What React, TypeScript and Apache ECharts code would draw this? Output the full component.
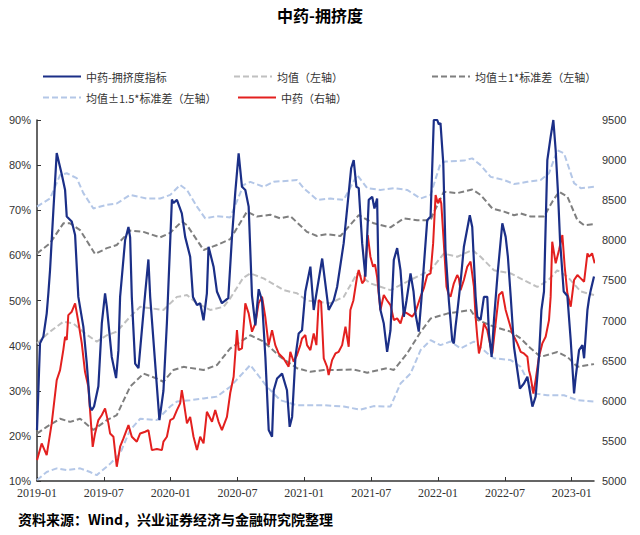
import React, { useEffect, useRef } from "react";
import * as echarts from "echarts";

// x = months since 2019-01
const tickMonths = [0, 6, 12, 18, 24, 30, 36, 42, 48];
const leftTicks = [10, 20, 30, 40, 50, 60, 70, 80, 90];
const rightTicks = [5000, 5500, 6000, 6500, 7000, 7500, 8000, 8500, 9000, 9500];

const crowding: [number, number][] = [
  [0, 21.3], [0.27, 40.5], [0.57, 42], [0.87, 47.1], [1.02, 51.6], [1.17, 56.7], [1.47, 70], [1.77, 82.7],
  [2.22, 78], [2.52, 74.5], [2.67, 68.6], [3.12, 67.5], [3.42, 64.5], [3.71, 50.8], [4.16, 44.2], [4.47, 36],
  [4.76, 26.5], [4.92, 25.7], [5.12, 26.5], [5.51, 31], [5.82, 45], [6.11, 51.6], [6.27, 48.6], [6.71, 37.5],
  [7.1, 32.8], [7.31, 39], [7.46, 50.8], [7.91, 63.4], [8.21, 66.3], [8.36, 64], [8.51, 50.8], [8.81, 36],
  [9.11, 35], [9.71, 51.6], [10.0, 59.1], [10.16, 50.8], [10.99, 23.5], [11.35, 30], [11.66, 45], [12.11, 72.4],
  [12.25, 71.6], [12.56, 72.3], [13.0, 69.3], [13.3, 64.1], [13.75, 59.7], [14.0, 50.8], [14.36, 49], [14.65, 49.4],
  [14.95, 45.6], [15.25, 51.6], [15.4, 61.9], [15.85, 57.5], [16.15, 52], [16.6, 49.4], [16.9, 50], [17.17, 50.5],
  [17.5, 64], [17.8, 74], [18.1, 82.6], [18.4, 75.2], [18.7, 74.5], [19.0, 70.8], [19.3, 51], [19.6, 44.5],
  [19.9, 52.5], [20.2, 50], [20.5, 37.5], [20.8, 21.3], [21.1, 19.8], [21.25, 30.1], [21.55, 32.7], [22.0, 33.8],
  [22.44, 30.1], [22.68, 22], [22.9, 24.2], [23.2, 37.5], [23.49, 42.7], [23.79, 43.4], [24.09, 52], [24.54, 57.5],
  [24.84, 47.9], [25.6, 59.3], [26.18, 47.9], [26.63, 50], [26.94, 53], [27.53, 62.7], [27.98, 73.8], [28.2, 79.3],
  [28.43, 81.1], [28.67, 75.2], [28.88, 74.9], [29.19, 62.7], [29.48, 55.3], [29.78, 72.3], [30.09, 73], [30.29, 70.4],
  [30.53, 72.6], [30.68, 52], [30.83, 47.9], [31.13, 44.9], [31.43, 38.6], [31.73, 43.4], [32.03, 59], [32.33, 61.6],
  [32.63, 56.7], [32.93, 46.4], [33.17, 50], [33.53, 56], [33.8, 52], [33.98, 47], [34.27, 43.1], [34.5, 50],
  [34.72, 57.5], [35.03, 67.8], [35.33, 68.6], [35.62, 90], [35.93, 90], [36.07, 89], [36.22, 89.3], [36.47, 80.4],
  [36.67, 61.2], [36.97, 50], [37.27, 41.2], [37.42, 40.5], [37.57, 44.2], [37.78, 48.6], [38.02, 54], [38.32, 61.9],
  [38.85, 68.9], [39.07, 66.3], [39.37, 51], [39.52, 46.4], [39.82, 45.7], [40.12, 50.8], [40.42, 50.8], [40.57, 42.7],
  [40.81, 37.5], [41.02, 45.7], [41.35, 56], [41.77, 67.1], [42.07, 64.1], [42.27, 59.7], [42.52, 51], [42.82, 39.7],
  [43.35, 30.5], [43.71, 31.6], [44.02, 33.1], [44.47, 26.5], [44.76, 28.7], [45.06, 37.5], [45.28, 47.9], [45.51, 52],
  [45.81, 81.1], [46.11, 86.3], [46.35, 90], [46.56, 83.3], [46.77, 73.8], [46.95, 63.4], [47.28, 52], [47.61, 51],
  [47.91, 41.2], [48.21, 29.4], [48.36, 33.1], [48.66, 39], [48.96, 40.1], [49.11, 37.2], [49.41, 47.9], [49.56, 50.5],
  [49.71, 52.3], [50.0, 55.3],
];

const meanLine: [number, number][] = [
  [0, 40.5], [1.17, 43.1], [2.37, 45.3], [3.27, 44.9], [4.31, 42.7], [5.36, 40.9], [6.27, 42.3], [7.16, 43.1],
  [8.36, 46.4], [9.26, 48.6], [10.46, 48.2], [11.35, 47.9], [12.56, 50.8], [13.46, 51.2], [14.36, 49.4], [15.55, 47.9],
  [16.75, 48.6], [17.35, 50.5], [18.5, 55], [19.15, 56], [20.34, 54.9], [22.14, 52.3], [23.34, 51.6], [24.24, 50],
  [26.34, 49.4], [27.53, 50.8], [28.74, 56], [29.93, 53.8], [31.73, 52.3], [32.93, 53.8], [34.13, 55.3], [35.33, 56.7],
  [36.52, 60.4], [37.73, 59.7], [39.07, 61.2], [39.82, 59.7], [41.02, 56.7], [42.52, 56], [43.71, 54.5], [44.91, 53],
  [45.9, 54.5], [46.71, 56.7], [47.61, 55.3], [48.81, 52], [50.0, 51.2],
];

const upper1: [number, number][] = [
  [0, 60.4], [1.17, 62.7], [2.37, 67.1], [2.97, 67.1], [3.87, 65.6], [5.21, 60.3], [6.27, 61.6], [7.16, 62.3],
  [8.36, 65.5], [9.56, 65.2], [11.06, 64], [11.96, 65], [13.0, 67.5], [13.46, 66.7], [14.95, 61.2], [16.15, 62.3],
  [17.35, 63.6], [18.85, 69.7], [19.75, 68.6], [20.94, 69], [21.84, 68.2], [22.74, 68.7], [24.24, 65.2], [25.14, 64.3],
  [26.04, 64.7], [27.24, 64.3], [28.88, 68.9], [30.23, 67.1], [31.73, 66.2], [32.93, 68.2], [34.13, 67.8], [35.33, 67.8],
  [35.5, 68.9], [36.52, 74.1], [37.73, 73.8], [39.07, 74.6], [39.82, 73.4], [40.87, 70.4], [41.92, 69.7], [42.82, 68.9],
  [43.42, 69.3], [44.31, 68.6], [45.51, 68.6], [46.26, 71.9], [46.86, 74.1], [47.61, 73], [48.51, 67.8], [49.11, 66.7],
  [50.0, 66.9],
];

const lower1: [number, number][] = [
  [0, 20.5], [0.87, 22], [2.07, 23.8], [2.97, 23.1], [3.87, 23.8], [5.06, 21.3], [6.27, 23.5], [7.16, 24.6],
  [8.36, 30.9], [9.56, 33.8], [10.76, 32.7], [11.35, 32], [12.25, 34.6], [13.15, 35.3], [14.95, 34.6], [16.15, 35.7],
  [17.35, 39.4], [19.15, 42.3], [20.34, 40.9], [21.84, 37.5], [23.34, 35], [24.54, 34.2], [25.74, 34.6], [26.94, 34.6],
  [28.43, 34.7], [29.64, 34], [31.43, 35], [32.03, 34.6], [33.23, 38.3], [34.43, 43], [35.33, 46], [36.82, 47.1],
  [38.92, 47.9], [39.52, 45.7], [41.02, 44.2], [42.52, 43.1], [43.42, 41.6], [44.31, 39.4], [45.21, 37.5], [46.71, 38.6],
  [47.61, 37.5], [48.51, 35.3], [50.0, 35.9],
];

const upper15: [number, number][] = [
  [0, 70.8], [1.17, 72.6], [2.07, 77.8], [2.67, 78.2], [3.57, 77.1], [4.16, 73.8], [5.06, 70.4], [6.27, 71.2],
  [7.16, 71.5], [8.36, 73.4], [9.86, 72.6], [11.06, 72.6], [11.96, 73.4], [12.85, 75.6], [13.46, 74.5], [14.36, 70.8],
  [15.1, 68.2], [16.15, 68.7], [17.35, 68.4], [18.54, 75.6], [19.15, 76.3], [20.34, 75.2], [21.24, 76.3], [23.34, 76.7],
  [23.94, 74.9], [25.14, 72.3], [26.34, 72.6], [27.53, 72.3], [28.74, 77.8], [29.64, 74.9], [30.83, 74.5], [32.03, 74.9],
  [33.23, 74.5], [34.43, 72.6], [35.33, 73.4], [36.22, 80.4], [36.67, 80.8], [38.32, 81], [39.07, 81.5], [39.82, 80],
  [40.72, 77.4], [41.92, 76.7], [42.82, 75.8], [44.02, 76.3], [45.21, 76.7], [45.96, 78.2], [46.71, 83.3], [47.31, 82.6],
  [48.21, 76], [48.81, 74.9], [50.0, 75.2],
];

const lower15: [number, number][] = [
  [0, 10.2], [0.87, 12], [1.77, 12.8], [2.67, 12.4], [3.87, 12.8], [4.76, 12], [5.36, 11.3], [6.56, 13.8],
  [7.46, 16.1], [8.36, 21.3], [9.26, 23.8], [10.76, 23.5], [11.96, 26.5], [12.56, 27.6], [13.75, 27.9], [14.95, 28.3],
  [16.15, 28.7], [17.35, 30.9], [19.15, 35.7], [20.64, 30.9], [21.84, 27.9], [23.34, 26.8], [25.74, 26.8], [27.53, 26.5],
  [29.03, 25.8], [30.23, 26.6], [31.73, 26.5], [32.63, 31.6], [33.53, 33.8], [34.43, 39], [35.33, 41.2], [36.22, 40.1],
  [37.12, 40.9], [38.02, 39.4], [39.22, 40.9], [40.42, 38.3], [41.02, 37.2], [42.52, 36.8], [43.42, 35.3], [44.61, 29.4],
  [45.81, 29], [47.31, 29], [48.51, 27.9], [50.0, 27.6],
];

const tcmIndex: [number, number][] = [
  [0, 5260], [0.42, 5468], [0.87, 5322], [1.32, 5718], [1.77, 6258], [2.07, 6382], [2.36, 6632], [2.52, 6798],
  [2.67, 6757], [2.81, 7068], [3.12, 7110], [3.42, 7214], [3.71, 6985], [4.02, 6715], [4.31, 6361], [4.61, 6174],
  [4.76, 5884], [5.0, 5426], [5.21, 5593], [5.51, 5759], [5.82, 5822], [6.11, 5905], [6.41, 5718], [6.56, 5593],
  [6.86, 5552], [7.16, 5178], [7.46, 5427], [7.76, 5531], [8.21, 5697], [8.51, 5552], [8.96, 5490], [9.26, 5593],
  [9.71, 5614], [10.0, 5635], [10.31, 5385], [10.76, 5400], [11.21, 5385], [11.35, 5490], [11.66, 5552], [11.96, 5759],
  [12.25, 5780], [12.56, 5884], [12.85, 5967], [13.0, 6133], [13.15, 6008], [13.46, 5718], [13.75, 5800], [14.05, 5552],
  [14.36, 5385], [14.65, 5552], [14.95, 5469], [15.25, 5863], [15.71, 5738], [16.0, 5884], [16.3, 5738], [16.6, 5635],
  [17.05, 5800], [17.35, 6100], [17.65, 6299], [17.95, 6881], [18.1, 6632], [18.4, 6653], [18.7, 7214], [19.0, 7090],
  [19.3, 6861], [19.6, 6965], [19.89, 7214], [20.2, 7298], [20.49, 7048], [20.79, 6694], [21.1, 6881], [21.39, 6694],
  [21.69, 6590], [22.14, 6528], [22.59, 6424], [22.74, 6611], [23.04, 6486], [23.34, 6570], [23.64, 6694], [23.79, 6777],
  [24.09, 6819], [24.24, 6694], [24.54, 6632], [24.84, 6840], [25.08, 6694], [25.29, 7255], [25.5, 7235], [25.74, 6528],
  [26.04, 6424], [26.18, 6320], [26.49, 6507], [26.79, 6590], [27.08, 6611], [27.39, 6694], [27.69, 6923], [27.98, 6673],
  [28.13, 7131], [28.4, 7250], [28.73, 7546], [28.88, 7630], [29.19, 7464], [29.39, 7500], [29.69, 8066], [29.93, 7796],
  [30.17, 7671], [30.34, 7700], [30.53, 7546], [30.7, 7300], [30.83, 7131], [31.13, 7318], [31.43, 7250], [31.73, 7193],
  [32.03, 7006], [32.33, 7027], [32.63, 6965], [32.93, 7110], [33.23, 7090], [33.68, 7048], [33.98, 7110], [34.43, 7298],
  [34.72, 7400], [35.03, 7567], [35.33, 7588], [35.56, 7962], [35.78, 8565], [35.98, 8461], [36.16, 8524], [36.29, 8461],
  [36.52, 7962], [36.76, 7422], [36.97, 7320], [37.12, 7298], [37.42, 7464], [37.72, 7567], [37.87, 7526], [38.02, 7380],
  [38.32, 7505], [38.62, 7671], [38.92, 7734], [39.22, 7422], [39.37, 7048], [39.52, 6798], [39.67, 6590], [39.82, 6673],
  [40.12, 6965], [40.42, 6881], [40.72, 6673], [40.87, 6590], [41.17, 6965], [41.46, 7318], [41.77, 7360], [42.07, 7131],
  [42.37, 6985], [42.67, 6840], [42.97, 6757], [43.12, 6715], [43.42, 6611], [43.71, 6590], [44.02, 6549], [44.16, 6382],
  [44.31, 6299], [44.56, 6091], [44.76, 6258], [45.06, 6549], [45.36, 6715], [45.66, 6798], [45.96, 7006], [46.11, 7298],
  [46.25, 7983], [46.56, 7713], [46.86, 7879], [47.16, 8066], [47.37, 7671], [47.61, 7339], [47.91, 7173], [48.21, 7505],
  [48.51, 7567], [48.81, 7526], [49.11, 7484], [49.41, 7838], [49.56, 7796], [49.83, 7838], [50.06, 7713],
];

const NAMES = {
  crowd: "中药-拥挤度指标",
  mean: "均值（左轴）",
  sd1: "均值±1*标准差（左轴）",
  sd15: "均值±1.5*标准差（左轴）",
  tcm: "中药（右轴）",
};

const monthLabel = (v: number) => {
  const y = 2019 + Math.floor(v / 12);
  const m = (v % 12) + 1;
  return `${y}-${m < 10 ? "0" + m : m}`;
};

const legendText = { fontSize: 11, color: "#333", fontFamily: "Noto Sans CJK SC" };
const mkLegend = (name: string, left: number, top: number) => ({
  data: [name],
  left,
  top,
  itemWidth: 38,
  itemHeight: 10,
  itemGap: 5,
  itemStyle: { opacity: 0 },
  textStyle: legendText,
  selectedMode: false,
});

export default function App() {
  const ref = useRef<HTMLDivElement>(null);
  useEffect(() => {
    if (!ref.current) return;
    const chart = echarts.init(ref.current, undefined, { renderer: "svg" });
    const dashed = (name: string, data: [number, number][], color: string) => ({
      name,
      type: "line",
      data,
      yAxisIndex: 0,
      symbol: "none",
      lineStyle: { color, width: 2, type: [6, 3] },
      itemStyle: { color },
      z: 1,
    });
    chart.setOption({
      animation: false,
      title: {
        text: "中药-拥挤度",
        left: "center",
        top: 2,
        textStyle: { fontSize: 16, fontWeight: "bold", color: "#000", fontFamily: "Noto Sans CJK SC" },
      },
      legend: [
        mkLegend(NAMES.crowd, 37, 66),
        mkLegend(NAMES.mean, 228, 66),
        mkLegend(NAMES.sd1, 426, 66),
        mkLegend(NAMES.sd15, 37, 87),
        mkLegend(NAMES.tcm, 232, 87),
      ],
      grid: { left: 37, right: 46, top: 120, bottom: 54, containLabel: false },
      xAxis: {
        type: "value",
        min: 0,
        max: 50,
        interval: 6,
        splitLine: { show: false },
        axisLine: { show: true, lineStyle: { color: "#333", width: 1.5 } },
        axisTick: { show: true, inside: true, length: 4, lineStyle: { color: "#333" } },
        axisLabel: {
          formatter: (v: number) => (tickMonths.includes(v) ? monthLabel(v) : ""),
          showMaxLabel: false,
          color: "#333",
          fontSize: 12,
          fontFamily: "Liberation Serif",
          margin: 6,
        },
      },
      yAxis: [
        {
          type: "value",
          min: leftTicks[0],
          max: leftTicks[leftTicks.length - 1],
          interval: 10,
          position: "left",
          splitLine: { show: false },
          axisLine: { show: true, onZero: false, lineStyle: { color: "#333", width: 1.5 } },
          axisTick: { show: true, inside: true, length: 4, lineStyle: { color: "#333" } },
          axisLabel: { formatter: "{value}%", color: "#333", fontSize: 11, fontFamily: "Liberation Sans", margin: 6 },
        },
        {
          type: "value",
          min: rightTicks[0],
          max: rightTicks[rightTicks.length - 1],
          interval: 500,
          position: "right",
          splitLine: { show: false },
          axisLine: { show: false },
          axisTick: { show: false },
          axisLabel: {
            formatter: (v: number) => String(v),
            color: "#333",
            fontSize: 11,
            fontFamily: "Liberation Sans",
            margin: 8,
          },
        },
      ],
      series: [
        dashed(NAMES.sd15, upper15, "#b4c7e7"),
        dashed(NAMES.sd15, lower15, "#b4c7e7"),
        dashed(NAMES.sd1, upper1, "#7f7f7f"),
        dashed(NAMES.sd1, lower1, "#7f7f7f"),
        dashed(NAMES.mean, meanLine, "#c0c0c0"),
        {
          name: NAMES.tcm,
          type: "line",
          data: tcmIndex,
          yAxisIndex: 1,
          symbol: "none",
          lineStyle: { color: "#e3201f", width: 2 },
          itemStyle: { color: "#e3201f" },
          z: 2,
        },
        {
          name: NAMES.crowd,
          type: "line",
          data: crowding,
          yAxisIndex: 0,
          symbol: "none",
          lineStyle: { color: "#1b2f87", width: 2.2 },
          itemStyle: { color: "#1b2f87" },
          z: 3,
        },
      ],
      graphic: [
        {
          type: "text",
          left: 18,
          top: 512,
          style: {
            text: "资料来源：Wind，兴业证券经济与金融研究院整理",
            fontSize: 14,
            fontWeight: "bold",
            fill: "#000",
            fontFamily: "Noto Sans CJK SC",
          },
        },
      ],
    });
    return () => chart.dispose();
  }, []);
  return <div ref={ref} style={{ width: 640, height: 535, position: "absolute", left: 0, top: 0 }} />;
}
